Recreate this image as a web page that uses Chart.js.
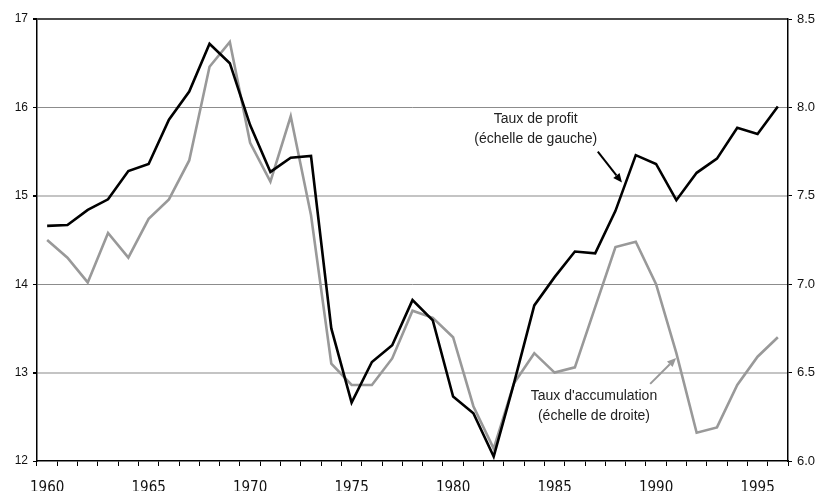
<!DOCTYPE html>
<html><head><meta charset="utf-8">
<script src="https://cdn.jsdelivr.net/npm/chart.js@4/dist/chart.umd.min.js"></script>
<style>html,body{margin:0;padding:0;background:#fff}#wrap{width:823px;height:491px;position:relative}</style>
</head><body><div id="wrap"><canvas id="c" width="823" height="491"></canvas></div>
<script>
const years = ['1960','1961','1962','1963','1964','1965','1966','1967','1968','1969','1970','1971','1972','1973','1974','1975','1976','1977','1978','1979','1980','1981','1982','1983','1984','1985','1986','1987','1988','1989','1990','1991','1992','1993','1994','1995','1996'];
const tauxProfit = [14.66,14.67,14.84,14.96,15.28,15.36,15.86,16.18,16.72,16.50,15.80,15.27,15.43,15.45,13.50,12.66,13.12,13.31,13.82,13.59,12.73,12.54,12.05,12.88,13.76,14.08,14.37,14.35,14.83,15.46,15.36,14.95,15.26,15.42,15.77,15.70,16.01];
const tauxAccumulation = [7.25,7.15,7.01,7.29,7.15,7.37,7.48,7.70,8.23,8.37,7.80,7.58,7.95,7.39,6.55,6.43,6.43,6.58,6.85,6.81,6.70,6.31,6.07,6.44,6.61,6.50,6.53,6.87,7.21,7.24,7.00,6.61,6.16,6.19,6.43,6.59,6.70];
const labelYears = ['1960','1965','1970','1975','1980','1985','1990','1995'];
const leftTicks = [12,13,14,15,16,17];
const rightTicks = [6.0,6.5,7.0,7.5,8.0,8.5];
const annotTexts = [
  {lines:['Taux de profit','(échelle de gauche)'], x:24.07, y:[15.87,15.64], axis:'y'},
  {lines:["Taux d'accumulation",'(échelle de droite)'], x:26.94, y:[6.368,6.255], axis:'y1'}
];
const annotArrows = [
  {from:[27.13,15.50], to:[28.32,15.15], axis:'y', color:'#000'},
  {from:[29.71,6.436], to:[30.99,6.583], axis:'y1', color:'#999'}
];

function xPix(scale, idx){
  const i0 = Math.floor(idx), f = idx - i0;
  const p0 = scale.getPixelForValue(i0), p1 = scale.getPixelForValue(i0+1);
  return p0 + (p1-p0)*f;
}
const annotPlugin = {
  id:'annot',
  afterDatasetsDraw(chart){
    const ctx = chart.ctx, xs = chart.scales.x;
    ctx.save();
    ctx.font = '14px "Liberation Sans", Arial, sans-serif';
    ctx.fillStyle = '#222';
    ctx.textAlign = 'center'; ctx.textBaseline = 'middle';
    annotTexts.forEach(a=>{
      const ys = chart.scales[a.axis];
      a.lines.forEach((l,k)=>ctx.fillText(l, xPix(xs,a.x), ys.getPixelForValue(a.y[k])));
    });
    annotArrows.forEach(a=>{
      const ys = chart.scales[a.axis];
      const x0 = xPix(xs,a.from[0]), y0 = ys.getPixelForValue(a.from[1]);
      const x1 = xPix(xs,a.to[0]), y1 = ys.getPixelForValue(a.to[1]);
      const ang = Math.atan2(y1-y0, x1-x0);
      const hl = 9, hw = 4;
      const bx = x1 - hl*Math.cos(ang), by = y1 - hl*Math.sin(ang);
      ctx.strokeStyle = a.color; ctx.fillStyle = a.color; ctx.lineWidth = 2;
      ctx.beginPath(); ctx.moveTo(x0,y0); ctx.lineTo(bx,by); ctx.stroke();
      ctx.beginPath();
      ctx.moveTo(x1,y1);
      ctx.lineTo(bx + hw*Math.sin(ang), by - hw*Math.cos(ang));
      ctx.lineTo(bx - hw*Math.sin(ang), by + hw*Math.cos(ang));
      ctx.closePath(); ctx.fill();
    });
    ctx.restore();
  }
};

new Chart(document.getElementById('c'), {
  type:'line',
  data:{
    labels: years,
    datasets:[
      {label:'Taux de profit', data:tauxProfit, yAxisID:'y', borderColor:'#000', borderWidth:2.6, pointRadius:0, tension:0, order:1},
      {label:"Taux d'accumulation", data:tauxAccumulation, yAxisID:'y1', borderColor:'#999', borderWidth:2.6, pointRadius:0, tension:0, order:2}
    ]
  },
  options:{
    responsive:false, animation:false,
    layout:{padding:{top:19,left:0,right:0,bottom:0}},
    plugins:{legend:{display:false}, tooltip:{enabled:false}, title:{display:false}},
    scales:{
      x:{
        type:'category', offset:true,
        grid:{offset:true, drawOnChartArea:false, tickLength:5, tickColor:'#000', lineWidth:1},
        border:{color:'#000', width:1.5},
        ticks:{autoSkip:false, maxRotation:0, padding:13, color:'#111',
          font:{family:'"Liberation Sans Narrow", "DejaVu Sans Condensed", Arial, sans-serif', size:15},
          callback(v){ const l = this.getLabelForValue(v); return labelYears.includes(l) ? l : ''; }},
        afterFit(s){ s.height = 30; }
      },
      y:{
        position:'left', min:12, max:17,
        afterBuildTicks(s){ s.ticks = leftTicks.map(v=>({value:v})); },
        grid:{tickLength:4, tickColor:'#000',
          color(c){ const v=c.tick.value; if(v===17) return '#4a4a4a'; if(v===16||v===14) return '#8c8c8c'; if(v===12) return 'rgba(0,0,0,0)'; return '#c4c4c4'; },
          lineWidth(c){ const v=c.tick.value; if(v===17) return 2; if(v===15||v===13) return 2; return 1; }},
        border:{color:'#000', width:1.5},
        ticks:{padding:5, color:'#111', font:{family:'"Liberation Sans", Arial, sans-serif', size:12}},
        afterFit(s){ s.width = 37; }
      },
      y1:{
        position:'right', min:6, max:8.5,
        afterBuildTicks(s){ s.ticks = rightTicks.map(v=>({value:v})); },
        grid:{drawOnChartArea:false, tickLength:4, tickColor:'#000'},
        border:{color:'#000', width:1.5},
        ticks:{padding:5, color:'#111', font:{family:'"Liberation Sans", Arial, sans-serif', size:13},
          callback(v){ return Number(v).toFixed(1); }},
        afterFit(s){ s.width = 35; }
      }
    }
  },
  plugins:[annotPlugin]
});
</script></body></html>
